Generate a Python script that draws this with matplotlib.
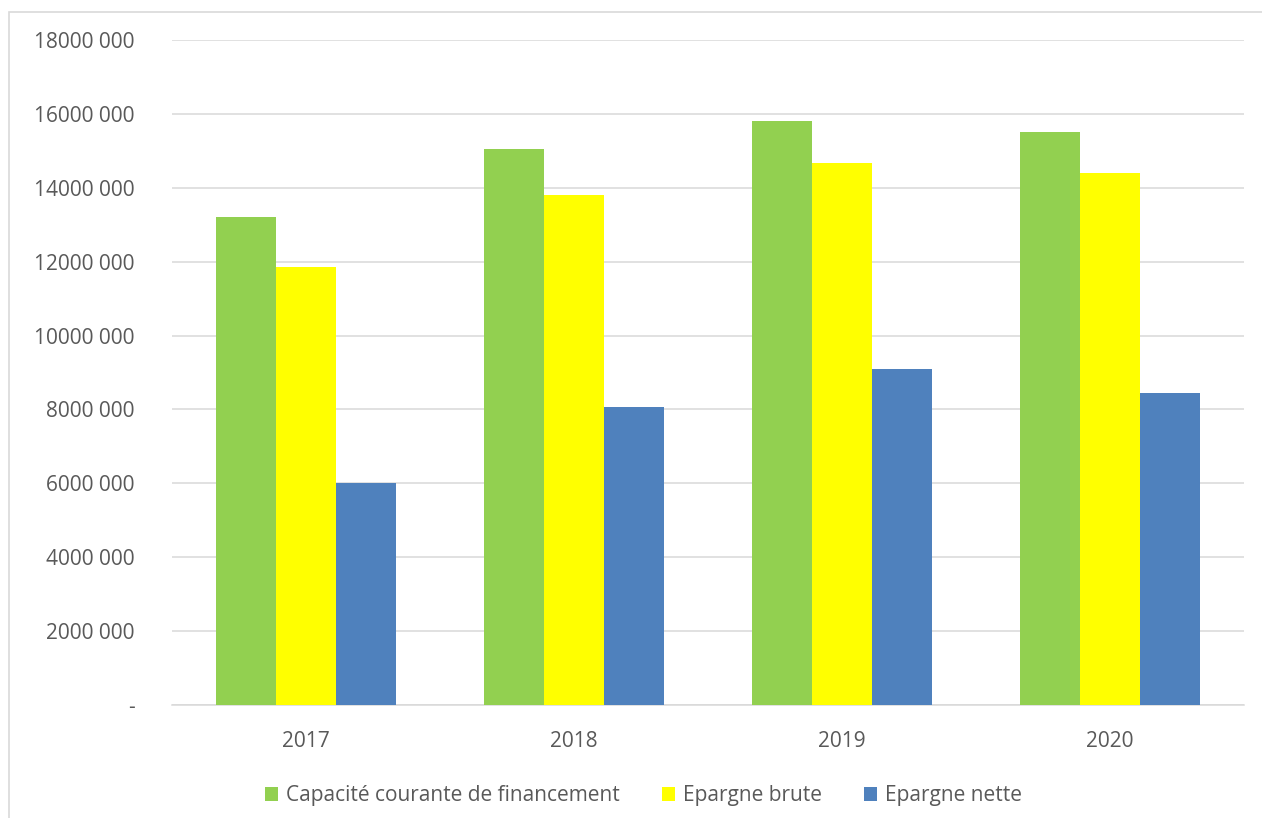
import matplotlib
matplotlib.use('Agg')
import matplotlib.pyplot as plt
import matplotlib.patches as patches
from matplotlib.ticker import FuncFormatter, MultipleLocator
import numpy as np

years = ['2017', '2018', '2019', '2020']
capacite = [13210000, 15050000, 15810000, 15500000]
epargne_brute = [11860000, 13810000, 14670000, 14400000]
epargne_nette = [6010000, 8070000, 9100000, 8450000]

series_names = ['Capacité courante de financement', 'Epargne brute', 'Epargne nette']
series_colors = ['#92D050', '#FFFF00', '#4F81BD']

plt.rcParams['font.family'] = ['Open Sans', 'DejaVu Sans']

fig = plt.figure(figsize=(12.62, 8.18), dpi=100)
ax = fig.add_axes([172 / 1262, 1 - 705 / 818, (1244 - 172) / 1262, (705 - 40) / 818])

# Light outer frame like the Excel chart area
fig.patches.append(patches.Rectangle((9 / 1262, -0.1), 1.2, 1 - 12 / 818 + 0.1,
                                     transform=fig.transFigure, fill=False,
                                     edgecolor='#D9D9D9', linewidth=1.2))

x = np.arange(len(years))
width = 0.224
for i, (vals, name, col) in enumerate(zip([capacite, epargne_brute, epargne_nette],
                                          series_names, series_colors)):
    ax.bar(x + (i - 1) * width, vals, width, color=col, label=name, zorder=3)

ax.set_xlim(-0.5, len(years) - 0.5)
ax.set_ylim(0, 18000000)
ax.yaxis.set_major_locator(MultipleLocator(2000000))


def fmt(v, pos):
    if v == 0:
        return '-'
    return f"{int(round(v / 1000))} 000"


ax.yaxis.set_major_formatter(FuncFormatter(fmt))
ax.set_xticks(x)
ax.set_xticklabels(years)

ax.grid(axis='y', color='#D9D9D9', linewidth=1.1, zorder=0)
for s in ['top', 'right', 'left']:
    ax.spines[s].set_visible(False)
ax.spines['bottom'].set_color('#D9D9D9')
ax.spines['bottom'].set_linewidth(1.1)
ax.tick_params(axis='both', length=0, labelsize=15, labelcolor='#595959')
ax.tick_params(axis='y', pad=27)
ax.tick_params(axis='x', pad=19)

ax.legend(loc='upper center', bbox_to_anchor=(0.44, -0.092), ncol=3, frameon=False,
          fontsize=15, labelcolor='#595959', handlelength=0.65, handleheight=0.65,
          handletextpad=0.38, columnspacing=2.0)

fig.savefig('out.png', dpi=100)
